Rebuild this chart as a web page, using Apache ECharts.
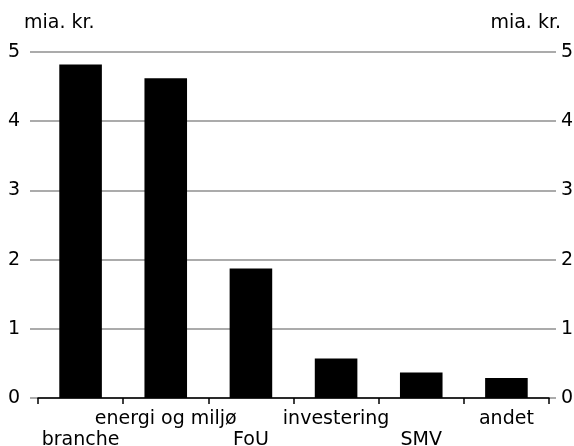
<!DOCTYPE html>
<html><head><meta charset="utf-8">
<script src="https://cdn.jsdelivr.net/npm/echarts@6/dist/echarts.min.js"></script>
<style>html,body{margin:0;padding:0;background:#fff}#c{width:574px;height:446px}</style>
</head><body><div id="c"></div>
<script>
const categories = ['branche', 'energi og miljø', 'FoU', 'investering', 'SMV', 'andet'];
const values = [4.82, 4.62, 1.87, 0.57, 0.37, 0.29];
const yTicks = [0, 1, 2, 3, 4, 5];
const unit = 'mia. kr.';

const FONT = 'DejaVu Sans';
const FS = 19;
const chart = echarts.init(document.getElementById('c'));
const yBase = {
  type: 'value', min: yTicks[0], max: yTicks[yTicks.length - 1], interval: 1,
  axisLine: { show: false }, axisTick: { show: false }
};
chart.setOption({
  animation: false,
  textStyle: { fontFamily: FONT },
  title: [
    { text: unit, left: 19, top: 9, textStyle: { fontFamily: FONT, fontSize: FS, fontWeight: 'normal', color: '#000' } },
    { text: unit, right: 8, top: 9, textStyle: { fontFamily: FONT, fontSize: FS, fontWeight: 'normal', color: '#000' } }
  ],
  grid: [
    { left: 30, right: 18, top: 52, bottom: 48, containLabel: false, outerBoundsMode: 'none' },
    { left: 38, right: 25, top: 52, bottom: 48, containLabel: false, outerBoundsMode: 'none' }
  ],
  xAxis: [
    { gridIndex: 0, type: 'value', show: false, min: 0, max: 1 },
    {
      gridIndex: 1, type: 'category', data: categories, boundaryGap: true,
      axisLine: { show: true, lineStyle: { color: '#000', width: 1.5 } },
      axisTick: { show: true, length: 6, lineStyle: { color: '#000', width: 1.5 } },
      axisLabel: {
        interval: 0, color: '#000', fontFamily: FONT, fontSize: FS, margin: 11, lineHeight: 21,
        formatter: (v, i) => (i % 2 === 0 ? '\n' + v : v)
      }
    }
  ],
  yAxis: [
    Object.assign({}, yBase, {
      gridIndex: 0, position: 'left',
      splitLine: { show: true, lineStyle: { color: '#8f8f8f', width: 1.5 } },
      axisLabel: { color: '#000', fontFamily: FONT, fontSize: FS, margin: 10 }
    }),
    Object.assign({}, yBase, {
      gridIndex: 0, position: 'right',
      splitLine: { show: false },
      axisLabel: { color: '#000', fontFamily: FONT, fontSize: FS, margin: 5 }
    }),
    Object.assign({}, yBase, {
      gridIndex: 1, show: false, splitLine: { show: false }
    })
  ],
  series: [{
    type: 'bar', xAxisIndex: 1, yAxisIndex: 2, data: values,
    barWidth: '50%', itemStyle: { color: '#000' }
  }]
});
</script></body></html>
